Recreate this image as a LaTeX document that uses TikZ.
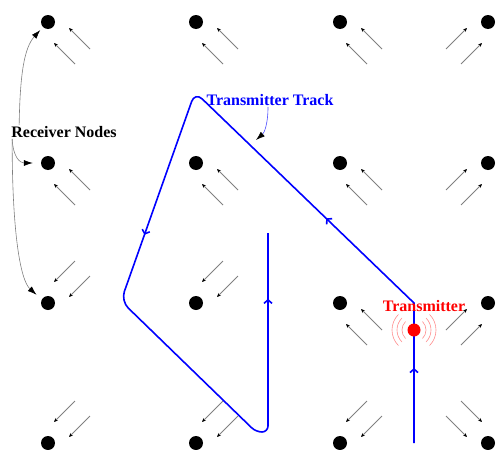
\documentclass[tikz,border=0pt]{standalone}
\usepackage{fontspec}
\setmainfont{Liberation Serif}
\usetikzlibrary{arrows.meta,decorations.markings}

\begin{document}
\begin{tikzpicture}[x=1pt,y=-1pt,
		rxdot/.style={circle, fill=black, inner sep=0pt, minimum size=14pt},
		sig/.style={gray, line width=0.8pt, -{Stealth[black,length=4pt,width=3.5pt]}},
		track/.style={blue, line width=1.6pt},
		wave/.style={red!45, line width=0.6pt},
		lbl/.style={font=\fontsize{16}{18}\selectfont\bfseries, inner sep=1pt},
		callout/.style={line width=0.6pt, -{Latex[black,length=9pt,width=6pt]}},
		]
		\useasboundingbox (0,0) rectangle (496,450);
		
		%Receiver nodes with their incoming signals
		\foreach \px/\py/\sx/\sy [count=\k] in {48/22/1/1, 196/22/1/1, 340/22/1/1, 488/22/-1/1,
				48/163/1/1, 196/163/1/1, 340/163/1/1, 488/163/-1/1,
				48/303/1/-1, 196/303/1/-1, 340/303/1/1, 488/303/-1/1,
				48/443/1/-1, 196/443/1/-1, 340/443/1/-1, 488/443/-1/-1} {
			\node[rxdot] (rx\k) at (\px,\py) {};
			\begin{scope}[shift={(\px,\py)}, xscale=\sx, yscale=\sy]
				\draw[sig] (42,27) -- (21,6);
				\draw[sig] (27,42) -- (6,21);
			\end{scope}
		}
		
		%Track
		\draw[track, postaction={decorate}, decoration={markings,
				mark=at position 75pt with {\arrow{Straight Barb[length=3.5pt,width=8pt]}},
				mark=at position 262pt with {\arrow{Straight Barb[length=3.5pt,width=8pt]}},
				mark=at position 589pt with {\arrow{Straight Barb[length=3.5pt,width=8pt]}},
				mark=at position 987pt with {\arrow{Straight Barb[length=3.5pt,width=8pt]}}}]
			(414,443) -- (414,303) [rounded corners=10pt] -- (195,92) -- (121,301)
			[rounded corners=6pt] -- (256,432) -- (268,432) -- (268,233);
		
		%Transmitter
		\node[circle, fill=red, inner sep=0pt, minimum size=13pt] (tx) at (414,330) {};
		\foreach \r in {12,17,22} {
			\draw[wave] ([shift={(-45:\r pt)}]tx.center) arc[start angle=-45, end angle=45, radius=\r pt];
			\draw[wave] ([shift={(135:\r pt)}]tx.center) arc[start angle=135, end angle=225, radius=\r pt];
		}
		
		%Labels
		\node[lbl, red] (txlabel) at (424,306) {Transmitter};
		\node[lbl, blue] (tracklabel) at (270,100) {Transmitter Track};
		\node[lbl] (rxlabel) at (64,132) {Receiver Nodes};
		\coordinate (trackpt) at (256,140);
		
		%Callouts
		\draw[callout, blue!70] ([xshift=-2pt]tracklabel.south) .. controls (268,125) and (264,133) .. (trackpt);
		\draw[callout, gray, shorten >=4pt] ([xshift=9pt]rxlabel.north west) .. controls (20,75) and (24,48) .. (rx1.225);
		\draw[callout, gray, shorten >=8pt] ([xshift=2pt]rxlabel.south west) .. controls (13,157) and (20,163) .. (rx5.west);
		\draw[callout, gray, shorten >=7pt] ([xshift=2pt]rxlabel.south west) .. controls (12,230) and (20,280) .. (rx9.150);
	\end{tikzpicture}
\end{document}
